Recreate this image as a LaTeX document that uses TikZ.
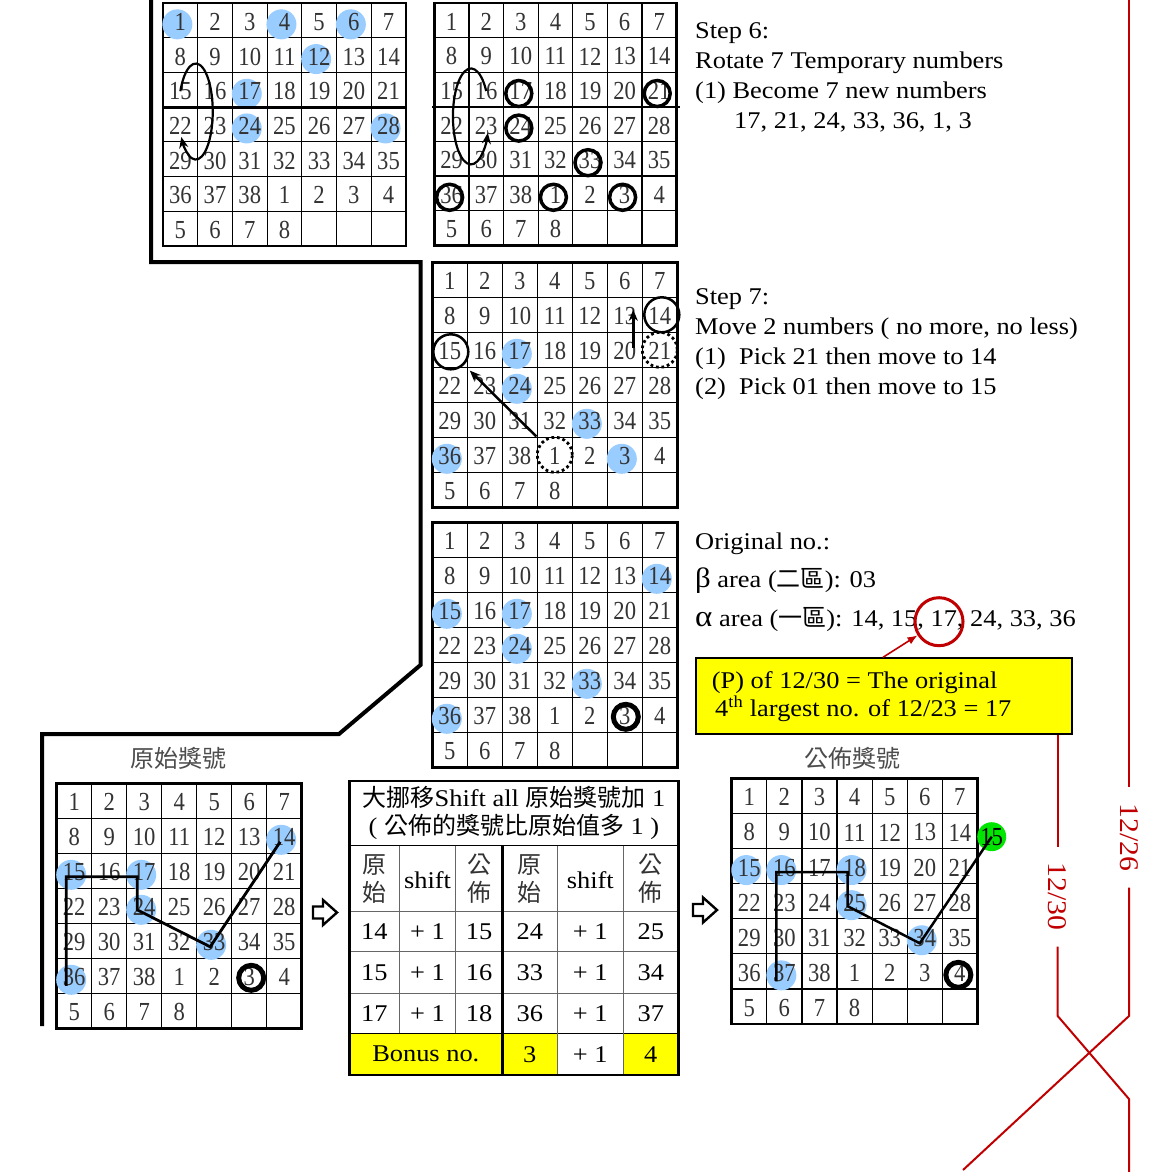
\documentclass[tikz,border=0pt]{standalone}
\usepackage{fontspec}
\setmainfont{Liberation Serif}
\newfontfamily\txtfont[FakeStretch=1.1]{Liberation Serif}
\newfontfamily\numfam[FakeStretch=0.87]{Liberation Serif}
\newfontfamily\cjk{Noto Sans CJK TC}
\usetikzlibrary{calc,arrows.meta}

\definecolor{dotblue}{RGB}{153,204,255}
\definecolor{darkred}{RGB}{192,0,0}
\definecolor{markyellow}{RGB}{255,255,0}
\definecolor{markgreen}{RGB}{0,230,0}

\pgfdeclarelayer{paper}
\pgfdeclarelayer{gridlines}
\pgfdeclarelayer{dots}
\pgfsetlayers{paper,gridlines,dots,main}

\newcommand{\gridnumfont}{\numfam\fontsize{26}{28}\selectfont}
\newcommand{\sidefont}{\txtfont\fontsize{24}{28}\selectfont}

\tikzset{
  numcell/.style={inner sep=0pt, font=\gridnumfont, text=black!80},
  gridline/.style={line width=1.2pt},
  gridframe/.style={line width=2.6pt},
  bluedot/.style={fill=dotblue},
  ring/.style={draw, circle, line width=3.5pt, minimum size=26pt, inner sep=0pt},
  heavyring/.style={draw, circle, line width=5pt, minimum size=25pt, inner sep=0pt},
  bigring/.style={draw, circle, line width=2.5pt, minimum size=35pt, inner sep=0pt},
  dotring/.style={draw, circle, line width=2.8pt, dash pattern=on 2.8pt off 2.8pt, minimum size=35pt, inner sep=0pt},
  turn/.style={line width=2.2pt, -{Stealth[length=11pt,width=9pt]}},
  mover/.style={line width=2.5pt, -{Stealth[length=11pt,width=9pt]}},
  route/.style={line width=2.8pt, line join=miter},
  sidetext/.style={anchor=base west, inner sep=0pt, font=\sidefont},
  tabcell/.style={inner sep=0pt, font=\sidefont},
  tabcjk/.style={inner sep=0pt, align=center, text=black!80, font=\cjk\fontsize{24}{28}\selectfont},
  tabline/.style={line width=1pt, black!60},
  redline/.style={draw=darkred, line width=2pt},
  datelabel/.style={text=darkred, rotate=-90, inner xsep=16pt, inner ysep=0pt, font=\txtfont\fontsize{27}{30}\selectfont},
  divider/.style={line width=4pt, line join=miter},
  heading/.style={text=black!70, font=\cjk\fontsize{24}{28}\selectfont},
}

% 7x7 number board: name, left, top, cell size
\newcommand{\numgrid}[4]{%
  \begin{pgfonlayer}{gridlines}
    \foreach \i in {1,...,6} {
      \draw[gridline] (#2+\i*#4,#3) -- (#2+\i*#4,#3+7*#4);
      \draw[gridline] (#2,#3+\i*#4) -- (#2+7*#4,#3+\i*#4);
    }
    \draw[gridframe] (#2,#3) rectangle (#2+7*#4,#3+7*#4);
  \end{pgfonlayer}
  \foreach \r in {1,...,7} {
    \foreach \c in {1,...,7} {
      \pgfmathtruncatemacro{\n}{(\r-1)*7+\c}
      \ifnum\n>46 \def\lbl{}\else\ifnum\n>38 \pgfmathtruncatemacro{\lbl}{\n-38}\else\let\lbl\n\fi\fi
      \node[numcell, minimum size=#4pt] (#1-\r-\c) at (#2+\c*#4-0.5*#4,#3+\r*#4-0.5*#4+1.5) {\lbl};
    }
  }
}

% outlined arrow between boards
\newcommand{\hollowarrow}[2]{%
  \draw[line width=2.4pt, line join=miter] (#1,#2-6) -- ++(10,0) -- ++(0,-6.5) -- ++(14,12.5)
    -- ++(-14,12.5) -- ++(0,-6.5) -- ++(-10,0) -- cycle;
}

\begin{document}
\begin{tikzpicture}[x=1pt,y=-1pt]
\useasboundingbox (0,0) rectangle (1153,1172);
\begin{pgfonlayer}{paper}
  \fill[white] (0,0) rectangle (1153,1172);
\end{pgfonlayer}

%Drawing the boards
\numgrid{A}{163}{3}{34.7}
\numgrid{B}{434.3}{3}{34.6}
\numgrid{C}{432.3}{262.3}{35}
\numgrid{D}{432.3}{522.3}{35}
\numgrid{E}{56.7}{783.3}{35}
\numgrid{F}{731.7}{778.3}{35.1}

\draw[gridframe] ($(A-3-1.south west)+(0,-1.5)$) -- ($(A-3-7.south east)+(0,-1.5)$);
\draw[gridframe] ($(B-3-1.south west)+(-2,-1.5)$) -- ($(B-3-7.south east)+(3,-1.5)$);

%blue marks
\begin{pgfonlayer}{dots}
  \foreach \p in {1-1,1-4,1-6,2-5,3-3,4-3,4-7} \fill[bluedot] ($(A-\p)+(-3,2.5)$) circle (15pt);
  \foreach \p in {3-3,4-3,5-5,6-1,6-6} \fill[bluedot] ($(C-\p)+(-3,2.5)$) circle (15pt);
  \foreach \p in {2-7,3-1,3-3,4-3,5-5,6-1} \fill[bluedot] ($(D-\p)+(-3,2.5)$) circle (15pt);
  \foreach \p in {2-7,3-1,3-3,4-3,5-5,6-1} \fill[bluedot] ($(E-\p)+(-3,2.5)$) circle (15pt);
  \foreach \p in {3-1,3-2,3-4,4-4,5-6,6-2} \fill[bluedot] ($(F-\p)+(-3,2.5)$) circle (15pt);
\end{pgfonlayer}

%rotation loops
\draw[turn] (A-3-1.center) arc[start angle=205, end angle=508, x radius=17, y radius=48];
\draw[turn] (B-3-2.center) arc[start angle=-32, end angle=-340, x radius=18, y radius=48];

%new numbers after rotating
\foreach \p in {3-3,3-7,4-3,5-5,6-1,6-4,6-6} \node[ring] (Bring-\p) at ($(B-\p)+(-2,2.5)$) {};

%moving two numbers
\node[bigring] (ring15) at ($(C-3-1)+(1,0.5)$) {};
\node[bigring] (ring14) at ($(C-2-7)+(2,-1.5)$) {};
\node[dotring] (spot21) at ($(C-3-7)+(0,-1.5)$) {};
\node[dotring] (spot1) at ($(C-6-4)+(0,-1.5)$) {};
\draw[mover, shorten <=7pt, shorten >=8pt] (spot1) -- (ring15);
\draw[mover] ($(C-3-6)+(8.5,-3.5)$) -- ($(C-2-6)+(8.5,-6.5)$);

\node[heavyring] (Dring) at ($(D-6-6)+(1,0.5)$) {};
\node[heavyring] (Ering) at ($(E-6-6)+(2,0.5)$) {};
\node[heavyring] (Fring) at ($(F-6-7)+(-1.5,2)$) {};

%routes through the numbers
\draw[route] ($(E-6-1)+(-8,8.5)$) -- ($(E-3-1)+(-8,4.5)$) -- ($(E-3-3)+(-7,4.5)$) -- ($(E-4-3)+(-7,2.5)$)
  -- ($(E-5-5)+(-4,4.5)$) -- ($(E-2-7)+(-4,4.5)$);
\node[circle, fill=markgreen, minimum size=29pt, inner sep=0pt, font=\gridnumfont] (g15) at (991.7,836.7) {15};
\draw[route, line width=2.5pt] ($(F-6-2)+(-8,8.5)$) -- ($(F-3-2)+(-8,4.5)$) -- ($(F-3-4)+(-7,4.5)$) -- ($(F-4-4)+(-7,3.5)$)
  -- ($(F-5-6)+(-5,5.5)$) -- (g15.center);

\node[heading] (origtitle) at (178.3,758) {原始獎號};
\node[heading] (pubtitle) at (852.7,758) {公佈獎號};

\hollowarrow{313}{912.5}
\hollowarrow{693}{910}

%the thick divider
\draw[divider] (151,0) -- (151,262) -- (420.5,262) -- (420.5,665) -- (339,734) -- (42,734) -- (42,1026);

%step texts
\node[sidetext] (s6) at (695,38) {Step 6:};
\node[sidetext] (s6a) at (695,68) {Rotate 7 Temporary numbers};
\node[sidetext] (s6b) at (695,98) {(1) Become 7 new numbers};
\node[sidetext] (s6c) at (734,128) {17, 21, 24, 33, 36, 1, 3};
\node[sidetext] (s7) at (695,304) {Step 7:};
\node[sidetext] (s7a) at (695,334) {Move 2 numbers ( no more, no less)};
\node[sidetext] (s7b) at (695,364) {(1)\ \ Pick 21 then move to 14};
\node[sidetext] (s7c) at (695,394) {(2)\ \ Pick 01 then move to 15};

\node[sidetext] (orig) at (695,549) {Original no.:};
\node[sidetext] (beta) at (695,587) {{\fontsize{28}{28}\selectfont β} area ({\cjk 二區}): 03};
\node[sidetext] (alpha) at (695,626) {{\fontsize{30}{28}\selectfont α} area ({\cjk 一區}): 14, 15, 17, 24, 33, 36};

%yellow note
\node[draw, line width=2pt, fill=markyellow, minimum width=375.7pt, minimum height=75.4pt, anchor=north west, inner sep=0pt] (pbox) at (695,657.3) {};
\node[sidetext] (pline1) at (711.7,688.3) {(P) of 12/30 = The original};
\node[sidetext] (pline2) at (715,716.7) {4\textsuperscript{th} largest no. of 12/23 = 17};
\node[draw=darkred, circle, line width=3pt, minimum size=48pt, inner sep=0pt] (ring17) at (939,621.7) {};
\draw[draw=darkred, line width=1.6pt, -{Latex[length=10pt,width=8pt]}] ($(pbox.north west)+(188,0)$) -- (ring17);

%date lines
\node[datelabel] (d1230) at (1057.7,896.7) {12/30};
\node[datelabel] (d1226) at (1129,837.5) {12/26};
\coordinate (x1) at (1057.7,1016);
\coordinate (x2) at (1129,1016);
\draw[redline] (pbox.south -| d1230) -- (d1230.west);
\draw[redline] (d1230.east) -- (x1) -- (1129,1099) -- (1129,1172);
\draw[redline] (1129,0) -- (d1226.west);
\draw[redline] (d1226.east) -- (x2) -- (963,1170);

%shift table
\fill[markyellow] (349.3,1033.3) rectangle (557.3,1075);
\fill[markyellow] (623.3,1033.3) rectangle (678.3,1075);
\draw[line width=1.5pt] (349.3,845.7) -- (678.3,845.7);
\foreach \y in {911.7,951.7,993.3} \draw[tabline] (349.3,\y) -- (678.3,\y);
\draw[line width=1.5pt] (349.3,1033.3) -- (678.3,1033.3);
\foreach \x in {399.3,455.7} \draw[tabline] (\x,845.7) -- (\x,1033.3);
\foreach \x in {557.3,623.3} \draw[tabline] (\x,845.7) -- (\x,1075);
\draw[line width=3pt] (502.3,845.7) -- (502.3,1075);
\draw[line width=2.5pt] (349.3,781) rectangle (678.3,1075);

\node[tabcell, align=center] (ttitle) at (514,813) {{\cjk 大挪移}Shift all {\cjk 原始獎號加} 1\\( {\cjk 公佈的獎號比原始值多} 1 )};
\node[tabcjk] (h1) at (374.3,878.7) {原\\始};
\node[tabcell] (h2) at (427.5,880) {shift};
\node[tabcjk] (h3) at (479,878.7) {公\\佈};
\node[tabcjk] (h4) at (529.8,878.7) {原\\始};
\node[tabcell] (h5) at (590.3,880) {shift};
\node[tabcjk] (h6) at (650.8,878.7) {公\\佈};
\foreach \y/\a/\b/\c/\d in {931.7/14/15/24/25, 972.5/15/16/33/34, 1013.3/17/18/36/37} {
  \node[tabcell] (o\a) at (374.3,\y) {\a};
  \node[tabcell] (s\a) at (427.5,\y) {+ 1};
  \node[tabcell] (p\a) at (479,\y) {\b};
  \node[tabcell] (o\c) at (529.8,\y) {\c};
  \node[tabcell] (s\c) at (590.3,\y) {+ 1};
  \node[tabcell] (p\c) at (650.8,\y) {\d};
}
\node[tabcell] (bonus) at (425.8,1054.2) {Bonus no.};
\node[tabcell] (b3) at (529.8,1054.2) {3};
\node[tabcell] (bs) at (590.3,1054.2) {+ 1};
\node[tabcell] (b4) at (650.8,1054.2) {4};
\end{tikzpicture}
\end{document}
